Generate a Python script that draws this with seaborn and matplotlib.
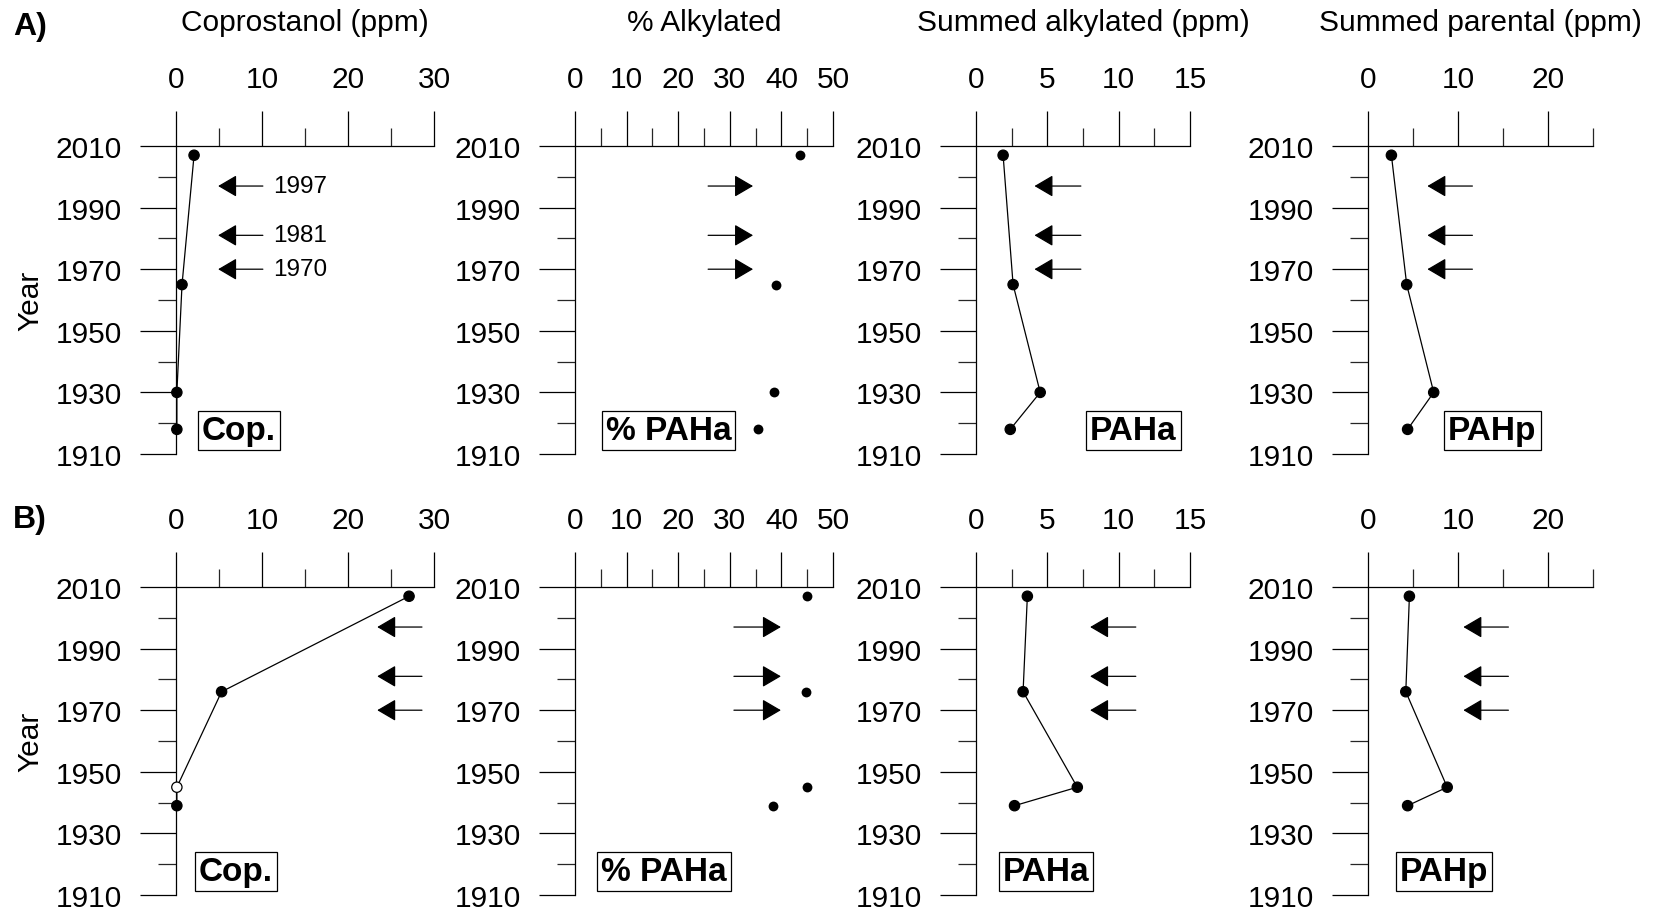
import matplotlib
matplotlib.use('Agg')
import matplotlib.pyplot as plt
import seaborn as sns
import pandas as pd
from matplotlib.ticker import MultipleLocator, FixedLocator

# ---------------- data ----------------
years_A = [2007, 1965, 1930, 1918]
years_B = [2007, 1976, 1945, 1939]

cop_A = [2.1, 0.7, 0.1, 0.1]
cop_B = [27.1, 5.3, 0.1, 0.1]          # third sample drawn as open circle
open_B = [False, False, True, False]

pct_A = [43.6, 39.0, 38.6, 35.5]
pct_B = [45.0, 44.8, 45.0, 38.4]

paha_A = [1.9, 2.6, 4.5, 2.4]
paha_B = [3.6, 3.3, 7.1, 2.7]

pahp_A = [2.6, 4.3, 7.3, 4.4]
pahp_B = [4.6, 4.2, 8.8, 4.4]

year_major = [1910, 1930, 1950, 1970, 1990, 2010]
year_minor = [1920, 1940, 1960, 1980, 2000]

arrow_years = [1997, 1981, 1970]
arrow_labels = ["1997", "1981", "1970"]

titles = ["Coprostanol (ppm)", "% Alkylated", "Summed alkylated (ppm)", "Summed parental (ppm)"]
box_labels = ["Cop.", "% PAHa", "PAHa", "PAHp"]
row_labels = ["A)", "B)"]

x_max = [30, 50, 15, 25]
x_major = [10, 10, 5, 10]
x_minor = [5, 5, 2.5, 5]

# ---------------- style ----------------
sns.set_theme(style='ticks')
plt.rcParams['font.family'] = ['Liberation Sans', 'DejaVu Sans']
plt.rcParams['axes.linewidth'] = 0.9

W, H = 1653, 912
fig = plt.figure(figsize=(W / 100, H / 100), dpi=100)
fig.patch.set_facecolor('white')

cols = [(176, 434), (575, 833), (976, 1190), (1368, 1593)]
rows = [(147, 455), (588, 896)]

# annotation positions (tip, tail) in data units per panel
arrow_pos = {
    (0, 0): (4.9, 10.1), (0, 1): (34.5, 25.8), (0, 2): (4.1, 7.35), (0, 3): (6.6, 11.6),
    (1, 0): (23.4, 28.6), (1, 1): (39.9, 30.8), (1, 2): (8.0, 11.2), (1, 3): (10.6, 15.6),
}
box_pos = {
    (0, 0): 0.244, (0, 1): 0.362, (0, 2): 0.736, (0, 3): 0.553,
    (1, 0): 0.231, (1, 1): 0.345, (1, 2): 0.327, (1, 3): 0.338,
}

series = {
    0: [cop_A, pct_A, paha_A, pahp_A],
    1: [cop_B, pct_B, paha_B, pahp_B],
}
yrs = {0: years_A, 1: years_B}

FS = 21.5
for r in range(2):
    t, b = rows[r]
    for c in range(4):
        l, rr = cols[c]
        ax = fig.add_axes([l / W, 1 - b / H, (rr - l) / W, (b - t) / H])
        ax.set_facecolor('white')
        df = pd.DataFrame({'x': series[r][c], 'y': yrs[r]})
        if c == 1:
            sns.scatterplot(data=df, x='x', y='y', ax=ax, color='black', s=50,
                            edgecolor='black', linewidth=0, zorder=3, clip_on=False)
        else:
            sns.lineplot(data=df, x='x', y='y', ax=ax, sort=False, estimator=None,
                         color='black', lw=0.9, zorder=2)
            if r == 1 and c == 0:
                fc = ['white' if o else 'black' for o in open_B]
            else:
                fc = ['black'] * len(df)
            sns.scatterplot(data=df, x='x', y='y', ax=ax, s=55, c=fc,
                            edgecolor='black', linewidth=0.9, zorder=3, clip_on=False)

        ax.set_xlim(0, x_max[c])
        ax.set_ylim(1910, 2010)
        ax.xaxis.tick_top()
        ax.xaxis.set_major_locator(MultipleLocator(x_major[c]))
        ax.xaxis.set_minor_locator(MultipleLocator(x_minor[c]))
        ax.yaxis.set_major_locator(FixedLocator(year_major))
        ax.yaxis.set_minor_locator(FixedLocator(year_minor))
        ax.tick_params(axis='x', which='major', direction='out', length=25, width=0.9,
                       pad=13.5, labelsize=FS, colors='black')
        ax.tick_params(axis='x', which='minor', direction='out', length=13, width=0.9)
        ax.tick_params(axis='y', which='major', direction='out', length=26, width=0.9,
                       pad=13, labelsize=FS, colors='black')
        ax.tick_params(axis='y', which='minor', direction='out', length=13, width=0.9)
        for s in ['right', 'bottom']:
            ax.spines[s].set_visible(False)
        for s in ['left', 'top']:
            ax.spines[s].set_color('black')
        ax.set_xlabel('')
        ax.set_ylabel('')

        tip, tail = arrow_pos[(r, c)]
        for k, yv in enumerate(arrow_years):
            ax.annotate('', xy=(tip, yv), xytext=(tail, yv),
                        arrowprops=dict(arrowstyle='-|>,head_length=0.58,head_width=0.34',
                                        mutation_scale=20, lw=0.9, color='black',
                                        shrinkA=0, shrinkB=0))
            if r == 0 and c == 0:
                ax.text(11.3, yv, arrow_labels[k], ha='left', va='center', fontsize=17.5,
                        color='black')

        ax.text(box_pos[(r, c)], 0.075, box_labels[c], transform=ax.transAxes,
                ha='center', va='center', fontsize=24, fontweight='bold', color='black',
                bbox=dict(boxstyle='square,pad=0.12', fc='white', ec='black', lw=0.9))

        if r == 0:
            fig.text((l + rr) / 2 / W, 1 - 23 / H, titles[c], ha='center', va='center',
                     fontsize=FS, color='black')

    fig.text(30 / W, 1 - ((t + b) / 2) / H, 'Year', rotation=90, ha='center', va='center',
             fontsize=FS, color='black')

fig.text(13 / W, 1 - 27 / H, row_labels[0], ha='left', va='center', fontsize=23,
         fontweight='bold', color='black')
fig.text(13 / W, 1 - 520 / H, row_labels[1], ha='left', va='center', fontsize=23,
         fontweight='bold', color='black')

fig.savefig('out.png', dpi=100, facecolor='white')
